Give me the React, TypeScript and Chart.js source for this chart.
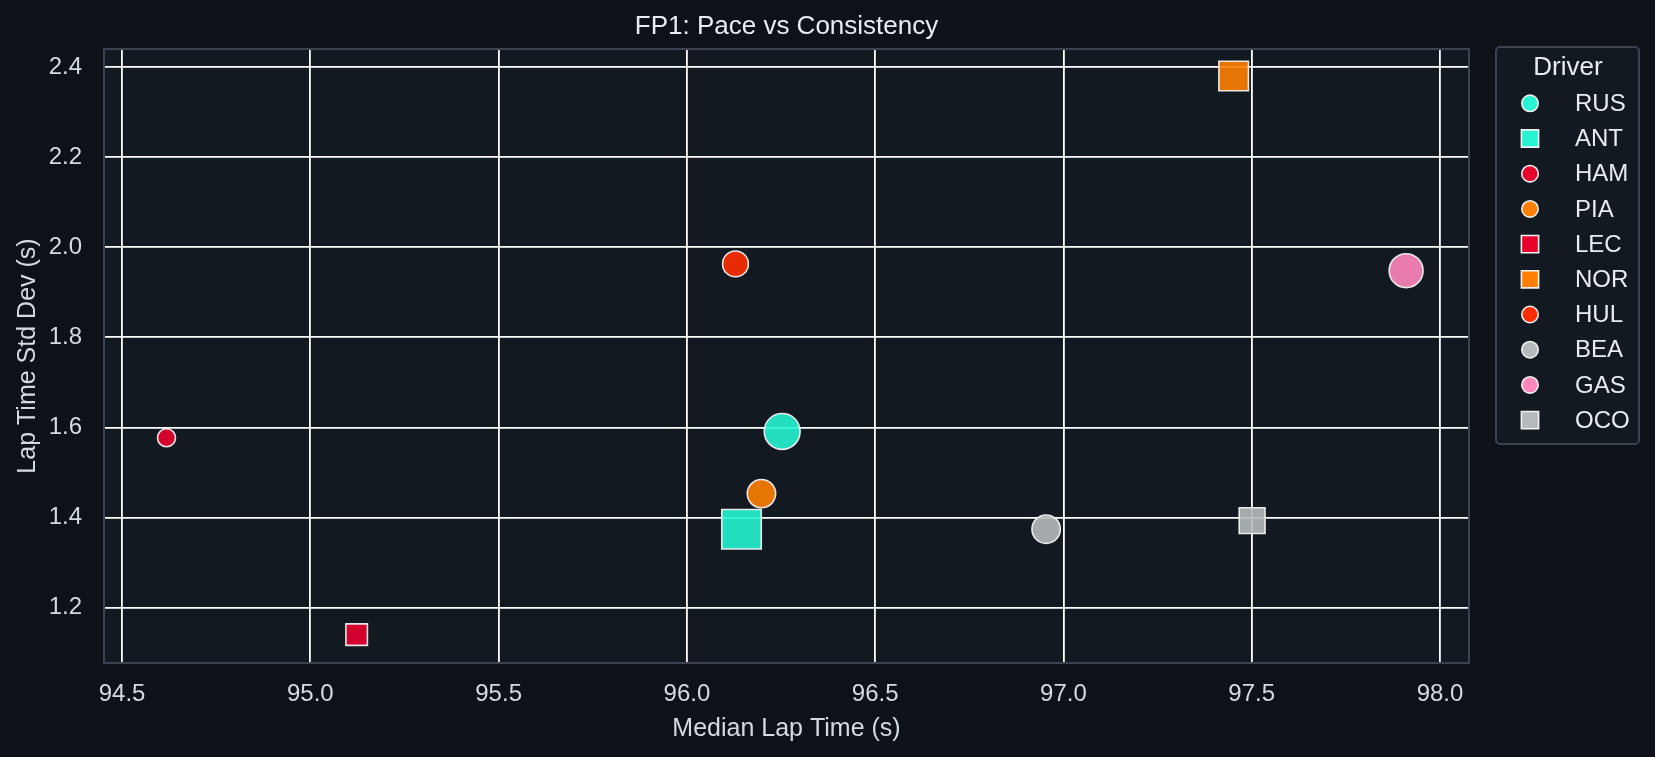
import React, { useEffect, useRef } from 'react';
import { Chart, registerables } from 'chart.js';

Chart.register(...registerables);

// ---- data ----
const drivers = ['RUS', 'ANT', 'HAM', 'PIA', 'LEC', 'NOR', 'HUL', 'BEA', 'GAS', 'OCO'];
const medianLapTime = [96.253, 96.145, 94.618, 96.198, 95.123, 97.452, 96.129, 96.954, 97.91, 97.501];
const lapTimeStdDev = [1.591, 1.374, 1.577, 1.453, 1.14, 2.38, 1.963, 1.374, 1.948, 1.393];
const lapCount = [22, 26, 8, 15, 10, 16, 13, 15, 20, 13];
const xRange = [94.452, 98.077];
const yRange = [1.077, 2.44];
const xTickStep = 0.5;
const yTickStep = 0.2;

// ---- styles ----
const driverColors = ['#27F4D2', '#27F4D2', '#E8002D', '#FF8000', '#E8002D', '#FF8000', '#FF2D00', '#B6BABD', '#FF87BC', '#B6BABD'];
const driverShapes = ['circle', 'rect', 'circle', 'circle', 'rect', 'rect', 'circle', 'circle', 'circle', 'rect'];

const FIG_BG = '#0e1118';
const PLOT_BG = '#131920';
const SPINE = '#3b4350';
const TEXT = '#d3dae2';
const TITLE_TEXT = '#e8ecf0';
const FONT = "'Liberation Sans', Arial, sans-serif";

const W = 1655;
const H = 757;
const PLOT = { left: 104, top: 49, right: 1469, bottom: 663 };

function hexA(hex: string, a: number) {
  const n = parseInt(hex.slice(1), 16);
  return `rgba(${(n >> 16) & 255},${(n >> 8) & 255},${n & 255},${a})`;
}

const minLaps = Math.min(...lapCount);
const maxLaps = Math.max(...lapCount);
function markerDiameter(laps: number) {
  const minArea = 324;
  const maxArea = 1560;
  const area = minArea + ((laps - minLaps) / (maxLaps - minLaps)) * (maxArea - minArea);
  return Math.sqrt(area);
}
function chartRadius(laps: number, shape: string) {
  const d = markerDiameter(laps);
  return shape === 'rect' ? d * Math.SQRT1_2 : d / 2;
}

const decorPlugin = {
  id: 'decor',
  beforeDraw(chart: any) {
    const { ctx, chartArea: a } = chart;
    ctx.save();
    ctx.fillStyle = FIG_BG;
    ctx.fillRect(0, 0, chart.width, chart.height);
    ctx.fillStyle = PLOT_BG;
    ctx.fillRect(a.left, a.top, a.right - a.left, a.bottom - a.top);
    ctx.restore();
  },
  afterDraw(chart: any) {
    const { ctx, chartArea: a } = chart;
    ctx.save();
    // frame
    ctx.strokeStyle = SPINE;
    ctx.lineWidth = 2;
    ctx.strokeRect(a.left, a.top, a.right - a.left, a.bottom - a.top);

    // title
    ctx.fillStyle = TITLE_TEXT;
    ctx.font = `26px ${FONT}`;
    ctx.textAlign = 'center';
    ctx.textBaseline = 'alphabetic';
    ctx.fillText('FP1: Pace vs Consistency', (a.left + a.right) / 2, 34);

    // axis titles
    ctx.fillStyle = TEXT;
    ctx.font = `25px ${FONT}`;
    ctx.fillText('Median Lap Time (s)', (a.left + a.right) / 2, 736);
    ctx.save();
    ctx.translate(35, (a.top + a.bottom) / 2);
    ctx.rotate(-Math.PI / 2);
    ctx.fillText('Lap Time Std Dev (s)', 0, 0);
    ctx.restore();

    // legend
    const lx = 1496, ly = 47, lw = 143, lh = 397;
    ctx.fillStyle = PLOT_BG;
    ctx.strokeStyle = SPINE;
    ctx.lineWidth = 2;
    ctx.beginPath();
    (ctx as any).roundRect(lx, ly, lw, lh, 4);
    ctx.fill();
    ctx.stroke();

    ctx.fillStyle = TITLE_TEXT;
    ctx.font = `26px ${FONT}`;
    ctx.textAlign = 'center';
    ctx.textBaseline = 'middle';
    ctx.fillText('Driver', 1568, 68);

    chart.data.datasets.forEach((ds: any, i: number) => {
      const cy = 103.3 + i * 35.2;
      const cx = 1530;
      ctx.fillStyle = driverColors[i];
      ctx.strokeStyle = '#f2f2f2';
      ctx.lineWidth = 1.6;
      ctx.beginPath();
      if (driverShapes[i] === 'rect') {
        ctx.rect(cx - 8.6, cy - 8.6, 17.2, 17.2);
      } else {
        ctx.arc(cx, cy, 8.2, 0, Math.PI * 2);
      }
      ctx.fill();
      ctx.stroke();
      ctx.fillStyle = TITLE_TEXT;
      ctx.font = `24px ${FONT}`;
      ctx.textAlign = 'left';
      ctx.textBaseline = 'middle';
      ctx.fillText(ds.label, 1575, cy + 1);
    });
    ctx.restore();
  },
};

export default function App() {
  const ref = useRef<HTMLCanvasElement | null>(null);

  useEffect(() => {
    document.body.style.margin = '0';
    document.body.style.background = FIG_BG;
    const canvas = ref.current;
    if (!canvas) return;

    const datasets = drivers.map((d, i) => ({
      label: d,
      data: [{ x: medianLapTime[i], y: lapTimeStdDev[i] }],
      pointStyle: driverShapes[i],
      pointRadius: chartRadius(lapCount[i], driverShapes[i]),
      pointHoverRadius: chartRadius(lapCount[i], driverShapes[i]),
      backgroundColor: hexA(driverColors[i], 0.9),
      borderColor: 'rgba(240,240,240,0.95)',
      borderWidth: 1.6,
      order: drivers.length - i,
      showLine: false,
    }));

    const chart = new Chart(canvas, {
      type: 'scatter',
      data: { datasets },
      options: {
        animation: false,
        responsive: false,
        devicePixelRatio: 1,
        layout: { padding: { left: 0, top: PLOT.top, right: W - PLOT.right, bottom: 0 } },
        plugins: { legend: { display: false }, title: { display: false }, tooltip: { enabled: false } },
        scales: {
          x: {
            type: 'linear',
            min: xRange[0],
            max: xRange[1],
            afterFit: (s: any) => { s.height = H - PLOT.bottom; },
            ticks: {
              stepSize: xTickStep,
              includeBounds: false,
              color: TEXT,
              font: { family: FONT, size: 24 },
              padding: 17,
              callback: (v: any) => Number(v).toFixed(1),
            },
            grid: { color: '#ffffff', lineWidth: 1.8, drawTicks: false },
            border: { display: false },
          },
          y: {
            type: 'linear',
            min: yRange[0],
            max: yRange[1],
            afterFit: (s: any) => { s.width = PLOT.left; },
            ticks: {
              stepSize: yTickStep,
              includeBounds: false,
              color: TEXT,
              font: { family: FONT, size: 24 },
              padding: 22,
              callback: (v: any) => Number(v).toFixed(1),
            },
            grid: { color: '#ffffff', lineWidth: 1.8, drawTicks: false },
            border: { display: false },
          },
        },
      },
      plugins: [decorPlugin],
    } as any);

    return () => chart.destroy();
  }, []);

  return (
    <div style={{ width: W, height: H, background: FIG_BG }}>
      <canvas ref={ref} width={W} height={H} style={{ display: 'block', width: W, height: H }} />
    </div>
  );
}
